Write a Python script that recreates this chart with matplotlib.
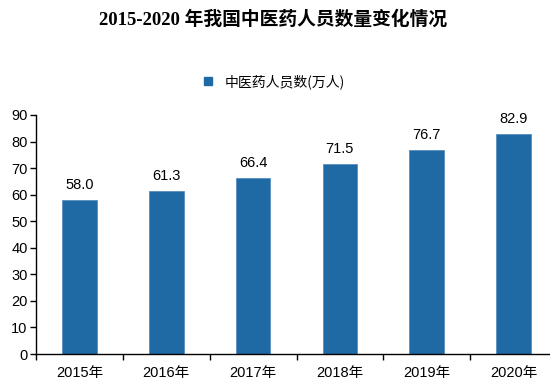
import matplotlib
matplotlib.use("Agg")
import matplotlib.pyplot as plt
from matplotlib.lines import Line2D

years = ["2015年", "2016年", "2017年", "2018年", "2019年", "2020年"]
values = [58.0, 61.3, 66.4, 71.5, 76.7, 82.9]
yticks = [0, 10, 20, 30, 40, 50, 60, 70, 80, 90]
title = "2015-2020 年我国中医药人员数量变化情况"
legend_label = "中医药人员数(万人)"

fam = ['Liberation Sans', 'Noto Sans CJK SC']
plt.rcParams['font.family'] = fam

fig = plt.figure(figsize=(5.5, 3.86), dpi=100)
ax = fig.add_axes([36/550, 32/386, 521/550, 239/386])
color = '#1F69A4'
x = list(range(len(years)))
bars = ax.bar(x, values, width=0.40, color=color, edgecolor='#5A8FC0', linewidth=0.6)
for xi, v in zip(x, values):
    ax.text(xi, v + 3, f"{v:.1f}", ha='center', va='bottom', fontsize=10.5, color='black')

ax.set_xlim(-0.5, len(years) - 0.5)
ax.set_ylim(0, 90)
ax.set_yticks(yticks)
ax.set_yticklabels([str(t) for t in yticks], fontsize=10.5)
ax.set_xticks([i + 0.5 for i in range(-1, len(years))], minor=False)
ax.set_xticklabels([])
ax.set_xticks(x, minor=True)
ax.set_xticklabels(years, minor=True, fontsize=10.5)
ax.tick_params(axis='x', which='major', length=4, direction='out', width=1)
ax.tick_params(axis='x', which='minor', length=0, pad=9)
ax.tick_params(axis='y', length=4, direction='out', width=1, pad=2)
for s in ['top', 'right']:
    ax.spines[s].set_visible(False)
ax.spines['left'].set_linewidth(1)
ax.spines['bottom'].set_linewidth(1)

fig.text(0.496, 0.950, title, ha='center', va='center', fontsize=13.5, fontweight='bold',
         family=['Liberation Serif', 'Noto Sans CJK SC'])
handle = Line2D([], [], marker='s', linestyle='none', markersize=6, color=color)
fig.legend([handle], [legend_label], loc='center', bbox_to_anchor=(0.49, 0.788), frameon=False,
           handletextpad=0.2, prop={'family': ['Noto Sans CJK SC'], 'size': 10})

fig.savefig("out.png", dpi=100)
